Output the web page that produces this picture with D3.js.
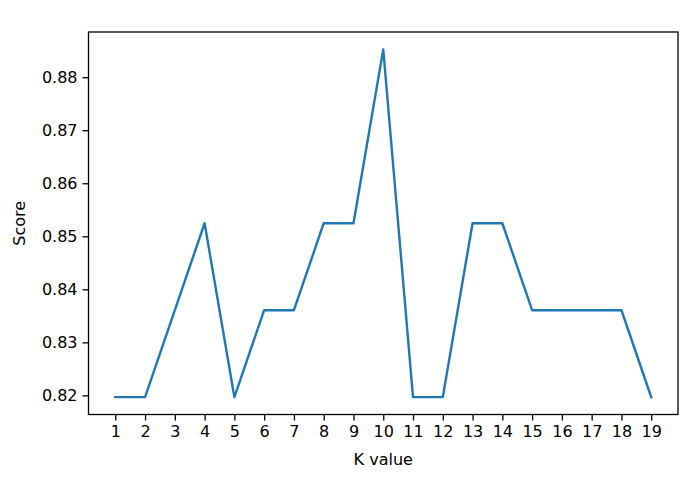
<!DOCTYPE html>
<html><head><meta charset="utf-8">
<script src="https://cdn.jsdelivr.net/npm/d3@7"></script>
<style>
html,body{margin:0;padding:0;background:#fff;}
text{font-family:"DejaVu Sans",sans-serif;}
</style></head>
<body>
<svg id="c" width="695" height="494"></svg>
<script>
const kValues = [1,2,3,4,5,6,7,8,9,10,11,12,13,14,15,16,17,18,19];
const scores = [50/61,50/61,51/61,52/61,50/61,51/61,51/61,52/61,52/61,54/61,50/61,50/61,52/61,52/61,51/61,51/61,51/61,51/61,50/61];
const yTicks = [0.82,0.83,0.84,0.85,0.86,0.87,0.88];
const xLabel = "K value";
const yLabel = "Score";

const L=88.5, R=678, T=32, B=414.5;
const svg = d3.select("#c");
const x = d3.scaleLinear().domain([0.1,19.9]).range([L,R]);
const ymin = d3.min(scores), ymax = d3.max(scores), pad=(ymax-ymin)*0.05;
const y = d3.scaleLinear().domain([ymin-pad, ymax+pad]).range([B,T]);

const fs = 16;
const xAxis = svg.append("g").attr("transform",`translate(0,${B})`)
  .call(d3.axisBottom(x).tickValues(kValues).tickFormat(d3.format("d")).tickSize(6).tickPadding(5).tickSizeOuter(0));
const yAxis = svg.append("g").attr("transform",`translate(${L},0)`)
  .call(d3.axisLeft(y).tickValues(yTicks).tickFormat(d3.format(".2f")).tickSize(6).tickPadding(5).tickSizeOuter(0));
[xAxis,yAxis].forEach(a=>{
  a.select(".domain").remove();
  a.selectAll("line").attr("stroke","#000").attr("stroke-width",1.3);
  a.selectAll("text").attr("font-size",fs).attr("fill","#000").attr("font-family","DejaVu Sans");
});

const line = d3.line().x((d,i)=>x(kValues[i])).y(d=>y(d));
svg.append("path").datum(scores).attr("d",line).attr("fill","none")
  .attr("stroke","#1f77b4").attr("stroke-width",2.4).attr("stroke-linejoin","round").attr("stroke-linecap","square");

svg.append("rect").attr("x",L).attr("y",T).attr("width",R-L).attr("height",B-T)
  .attr("fill","none").attr("stroke","#000").attr("stroke-width",1.3);

svg.append("text").attr("x",(L+R)/2).attr("y",465).attr("text-anchor","middle")
  .attr("font-size",fs).attr("fill","#000").text(xLabel);
svg.append("text").attr("transform",`translate(25,${(T+B)/2}) rotate(-90)`).attr("text-anchor","middle")
  .attr("font-size",fs).attr("fill","#000").text(yLabel);
</script>
</body></html>
